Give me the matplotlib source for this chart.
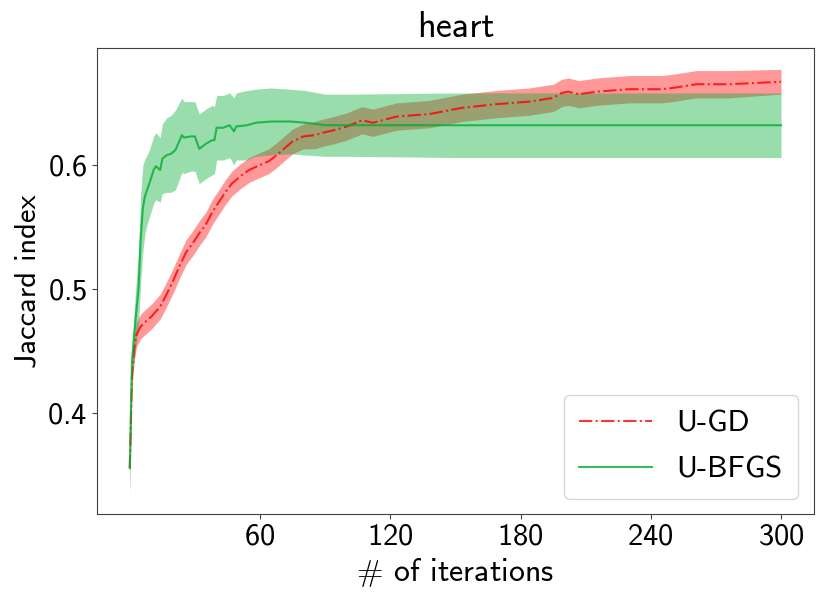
import matplotlib
matplotlib.use("Agg")
import matplotlib.pyplot as plt
import numpy as np

plt.rcParams['font.family'] = ['cmss10', 'DejaVu Sans']
plt.rcParams['mathtext.fontset'] = 'cm'
plt.rcParams['axes.unicode_minus'] = False
plt.rcParams['axes.formatter.use_mathtext'] = True

# U-GD (gradient descent) : iteration, mean, std
gd_iter = [0, 1, 2, 3, 5, 8, 10, 14, 17, 20, 23, 26, 29, 32, 35, 38, 41, 44, 47, 51,
           55, 60, 64, 67, 71, 75, 80, 85, 89, 94, 100, 107, 112, 123, 138, 153, 169,
           184, 195, 199, 202, 207, 215, 230, 245, 250, 261, 276, 300]
gd_mean = [0.356, 0.430, 0.452, 0.463, 0.470, 0.475, 0.478, 0.486, 0.496, 0.507,
           0.519, 0.530, 0.537, 0.545, 0.552, 0.562, 0.570, 0.578, 0.585, 0.591,
           0.596, 0.600, 0.603, 0.607, 0.613, 0.619, 0.623, 0.624, 0.626, 0.628,
           0.631, 0.636, 0.634, 0.639, 0.641, 0.646, 0.649, 0.651, 0.654, 0.658,
           0.659, 0.657, 0.659, 0.661, 0.661, 0.662, 0.665, 0.665, 0.667]
gd_std = [0.020, 0.012, 0.010, 0.010, 0.010, 0.010, 0.010, 0.010, 0.010, 0.010,
          0.010, 0.010, 0.010, 0.010, 0.010, 0.010, 0.010, 0.010, 0.010, 0.010,
          0.010, 0.010, 0.010, 0.010, 0.010, 0.010, 0.010, 0.011, 0.011, 0.011,
          0.011, 0.011, 0.011, 0.011, 0.011, 0.011, 0.011, 0.011, 0.011, 0.011,
          0.011, 0.011, 0.011, 0.011, 0.011, 0.011, 0.011, 0.011, 0.010]

# U-BFGS : iteration, mean, std
bfgs_iter = [0, 1, 2, 3, 4, 5, 6, 7, 8, 9, 11, 12, 14, 15, 17, 19, 21, 24, 25, 28,
             30, 32, 35, 38, 39, 40, 43, 46, 48, 49, 54, 58, 65, 74, 81, 90, 100,
             150, 200, 250, 300]
bfgs_mean = [0.356, 0.442, 0.462, 0.482, 0.500, 0.540, 0.565, 0.575, 0.580, 0.585,
             0.596, 0.599, 0.596, 0.605, 0.608, 0.609, 0.612, 0.624, 0.622, 0.623,
             0.623, 0.613, 0.617, 0.620, 0.620, 0.630, 0.630, 0.632, 0.627, 0.631,
             0.632, 0.634, 0.635, 0.635, 0.634, 0.632, 0.632, 0.632, 0.632, 0.632,
             0.632]
bfgs_std = [0.020, 0.015, 0.020, 0.025, 0.030, 0.035, 0.035, 0.030, 0.028, 0.027,
            0.027, 0.027, 0.026, 0.028, 0.030, 0.031, 0.032, 0.030, 0.029, 0.028,
            0.028, 0.028, 0.028, 0.028, 0.027, 0.026, 0.026, 0.026, 0.027, 0.027,
            0.028, 0.027, 0.027, 0.026, 0.026, 0.025, 0.025, 0.026, 0.026, 0.026,
            0.026]

x_ticks = [60, 120, 180, 240, 300]
y_ticks = [0.4, 0.5, 0.6]

red = '#ff0000'
green = '#04ac34'

fig = plt.figure(figsize=(8.31, 6.02), dpi=100)
ax = fig.add_subplot(111)
fig.subplots_adjust(left=0.117, right=0.979, top=0.920, bottom=0.146)

gd_mean_a = np.array(gd_mean)
gd_std_a = np.array(gd_std)
bf_mean_a = np.array(bfgs_mean)
bf_std_a = np.array(bfgs_std)

ax.fill_between(gd_iter, gd_mean_a - gd_std_a, gd_mean_a + gd_std_a,
                color=red, alpha=0.4, linewidth=0)
ax.fill_between(bfgs_iter, bf_mean_a - bf_std_a, bf_mean_a + bf_std_a,
                color=green, alpha=0.4, linewidth=0)
ax.plot(gd_iter, gd_mean, color=red, linestyle='-.', linewidth=1.5, alpha=0.8,
        label='U-GD')
ax.plot(bfgs_iter, bfgs_mean, color=green, linestyle='-', linewidth=1.5, alpha=0.8,
        label='U-BFGS')

ax.set_xticks(x_ticks)
ax.set_yticks(y_ticks)
ax.tick_params(labelsize=22, color='0.25')
for s in ax.spines.values():
    s.set_color('0.25')

ax.set_title('heart', fontsize=26, pad=8)
ax.set_xlabel(r'$\#$ of iterations', fontsize=23)
ax.set_ylabel('Jaccard index', fontsize=22)
ax.legend(loc='lower right', fontsize=22, handlelength=2.4,
          labelspacing=0.6, borderpad=0.5)

fig.savefig('out.png', dpi=100)
